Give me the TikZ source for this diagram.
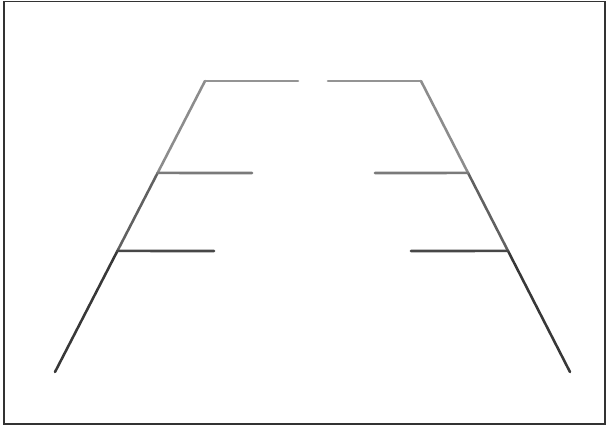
\documentclass[tikz,border=0pt]{standalone}
\usetikzlibrary{calc}
\begin{document}
\begin{tikzpicture}[x=0.2mm,y=-0.2mm,
	rail/.style={line width=1.45pt, line cap=round},
	rung/.style={line width=1.45pt, line cap=round}]
		\useasboundingbox (0,0) rectangle (606,430);
		\draw[line width=0.9pt, black!80] (4,1.5) rectangle (605,424);
		\begin{scope}
			% ends and corners of the two rails
			\coordinate (lb) at (55,372);
			\coordinate (lt) at (205,81);
			\coordinate (rb) at (570,372);
			\coordinate (rt) at (421,81);
			\coordinate (lm) at ($(lb)!0.684!(lt)$);
			\coordinate (ll) at ($(lb)!0.416!(lt)$);
			\coordinate (rm) at ($(rb)!0.684!(rt)$);
			\coordinate (rl) at ($(rb)!0.416!(rt)$);
			\coordinate (ltop) at (298,81);
			\coordinate (rtop) at (328,81);
			\coordinate (lmid) at (252,173);
			\coordinate (rmid) at (375,173);
			\coordinate (llow) at (214,251);
			\coordinate (rlow) at (411,251);
			\foreach \a/\b/\c in {lb/ll/black!78, ll/lm/black!62, lm/lt/black!45,
				rb/rl/black!78, rl/rm/black!62, rm/rt/black!45} {
				\draw[rail, \c] (\a) -- (\b);
			}
			\foreach \a/\b/\c in {lt/ltop/black!42, rtop/rt/black!42,
				lm/lmid/black!52, rmid/rm/black!52,
				ll/llow/black!72, rlow/rl/black!72} {
				\draw[rung, \c] (\a) -- (\b);
			}
		\end{scope}
	\end{tikzpicture}
\end{document}
